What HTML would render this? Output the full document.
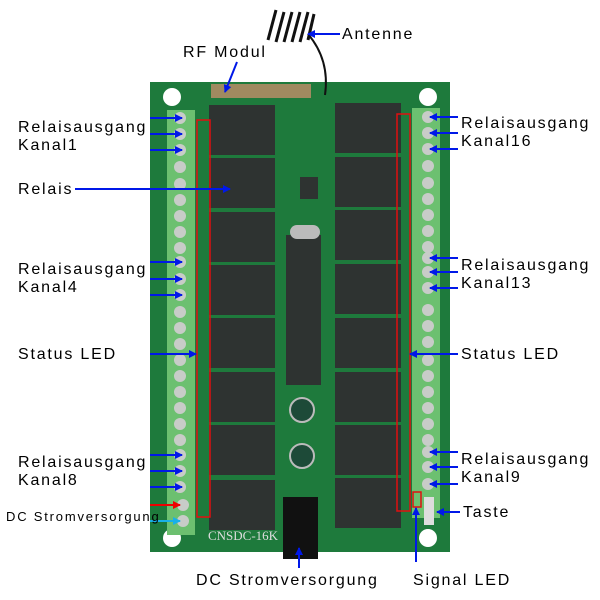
<!DOCTYPE html><html><head><style>body{margin:0;background:#fff}svg{display:block}text{font-family:"Liberation Sans",sans-serif;font-size:16px;letter-spacing:1.8px;fill:#000}</style></head><body>
<svg width="600" height="600" viewBox="0 0 600 600">
<defs><marker id="a" markerWidth="8" markerHeight="8" refX="7" refY="4" orient="auto" markerUnits="userSpaceOnUse"><path d="M0,0L8,4L0,8z" fill="#0018e8"/></marker>
<marker id="r" markerWidth="8" markerHeight="8" refX="7" refY="4" orient="auto" markerUnits="userSpaceOnUse"><path d="M0,0L8,4L0,8z" fill="#e00"/></marker>
<marker id="c" markerWidth="8" markerHeight="8" refX="7" refY="4" orient="auto" markerUnits="userSpaceOnUse"><path d="M0,0L8,4L0,8z" fill="#19b0e8"/></marker></defs>
<rect x="150" y="82" width="300" height="470" fill="#1e7a3c"/>
<circle cx="172" cy="97" r="9" fill="#fff"/><circle cx="428" cy="97" r="9" fill="#fff"/><circle cx="172" cy="538" r="9" fill="#fff"/><circle cx="428" cy="538" r="9" fill="#fff"/>
<rect x="167" y="110" width="28" height="425" fill="#6cc070"/>
<rect x="412" y="108" width="28" height="410" fill="#6cc070"/>
<g fill="#c8ccc8">
<circle cx="180" cy="118" r="6"/><circle cx="180" cy="134" r="6"/><circle cx="180" cy="150" r="6"/><circle cx="180" cy="167" r="6"/><circle cx="180" cy="184" r="6"/><circle cx="180" cy="200" r="6"/><circle cx="180" cy="216" r="6"/><circle cx="180" cy="232" r="6"/><circle cx="180" cy="248" r="6"/><circle cx="180" cy="262" r="6"/><circle cx="180" cy="279" r="6"/><circle cx="180" cy="295" r="6"/><circle cx="180" cy="312" r="6"/><circle cx="180" cy="328" r="6"/><circle cx="180" cy="344" r="6"/><circle cx="180" cy="360" r="6"/><circle cx="180" cy="376" r="6"/><circle cx="180" cy="392" r="6"/><circle cx="180" cy="408" r="6"/><circle cx="180" cy="424" r="6"/><circle cx="180" cy="440" r="6"/><circle cx="180" cy="455" r="6"/><circle cx="180" cy="471" r="6"/><circle cx="180" cy="487" r="6"/><circle cx="183" cy="505" r="6"/><circle cx="183" cy="521" r="6"/>
<circle cx="428" cy="117" r="6"/><circle cx="428" cy="133" r="6"/><circle cx="428" cy="149" r="6"/><circle cx="428" cy="166" r="6"/><circle cx="428" cy="183" r="6"/><circle cx="428" cy="199" r="6"/><circle cx="428" cy="215" r="6"/><circle cx="428" cy="231" r="6"/><circle cx="428" cy="247" r="6"/><circle cx="428" cy="258" r="6"/><circle cx="428" cy="272" r="6"/><circle cx="428" cy="288" r="6"/><circle cx="428" cy="310" r="6"/><circle cx="428" cy="326" r="6"/><circle cx="428" cy="342" r="6"/><circle cx="428" cy="360" r="6"/><circle cx="428" cy="376" r="6"/><circle cx="428" cy="392" r="6"/><circle cx="428" cy="408" r="6"/><circle cx="428" cy="424" r="6"/><circle cx="428" cy="440" r="6"/><circle cx="428" cy="452" r="6"/><circle cx="428" cy="467" r="6"/><circle cx="428" cy="484" r="6"/></g>
<g fill="#2e3331">
<rect x="209" y="105" width="66" height="50"/><rect x="209" y="158" width="66" height="50"/><rect x="209" y="212" width="66" height="50"/><rect x="209" y="265" width="66" height="50"/><rect x="209" y="318" width="66" height="50"/><rect x="209" y="372" width="66" height="50"/><rect x="209" y="425" width="66" height="50"/><rect x="209" y="480" width="66" height="50"/>
<rect x="335" y="103" width="66" height="50"/><rect x="335" y="157" width="66" height="50"/><rect x="335" y="210" width="66" height="50"/><rect x="335" y="264" width="66" height="50"/><rect x="335" y="318" width="66" height="50"/><rect x="335" y="372" width="66" height="50"/><rect x="335" y="425" width="66" height="50"/><rect x="335" y="478" width="66" height="50"/>
<rect x="286" y="235" width="35" height="150"/><rect x="300" y="177" width="18" height="22"/></g>
<rect x="211" y="84" width="100" height="14" fill="#a08a60"/>
<rect x="290" y="225" width="30" height="14" rx="7" fill="#bbb"/>
<circle cx="302" cy="410" r="12" fill="#1d4a38" stroke="#bbb" stroke-width="2"/><circle cx="302" cy="456" r="12" fill="#1d4a38" stroke="#bbb" stroke-width="2"/>
<rect x="283" y="497" width="35" height="62" fill="#111"/>
<rect x="424" y="497" width="10" height="28" fill="#ddd"/>
<text x="208" y="540" style="font-family:'Liberation Serif',serif;font-size:13px;letter-spacing:0;fill:#ddd">CNSDC-16K</text>
<path d="M325,95 Q330,60 308,34" stroke="#111" stroke-width="2" fill="none"/>
<g stroke="#111" stroke-width="3" fill="none"><path d="M268,40 l8,-30 M276,42 l8,-30 M284,42 l8,-30 M292,42 l8,-30 M300,42 l8,-30 M308,40 l6,-26"/></g>
<g fill="none" stroke="#e01010" stroke-width="1.5"><rect x="197" y="120" width="13" height="397"/><rect x="397" y="114" width="13" height="397"/><rect x="413" y="492" width="8" height="15"/></g>
<g stroke="#0018e8" stroke-width="2" marker-end="url(#a)">
<line x1="340" y1="34" x2="308" y2="34"/><line x1="237" y1="62" x2="225" y2="92"/>
<line x1="150" y1="118" x2="182" y2="118"/><line x1="150" y1="134" x2="182" y2="134"/><line x1="150" y1="150" x2="182" y2="150"/>
<line x1="75" y1="189" x2="230" y2="189"/>
<line x1="150" y1="262" x2="182" y2="262"/><line x1="150" y1="279" x2="182" y2="279"/><line x1="150" y1="295" x2="182" y2="295"/>
<line x1="150" y1="354" x2="196" y2="354"/>
<line x1="150" y1="455" x2="182" y2="455"/><line x1="150" y1="471" x2="182" y2="471"/><line x1="150" y1="487" x2="182" y2="487"/>
<line x1="458" y1="117" x2="430" y2="117"/><line x1="458" y1="133" x2="430" y2="133"/><line x1="458" y1="149" x2="430" y2="149"/>
<line x1="458" y1="258" x2="430" y2="258"/><line x1="458" y1="272" x2="430" y2="272"/><line x1="458" y1="288" x2="430" y2="288"/>
<line x1="458" y1="354" x2="410" y2="354"/>
<line x1="458" y1="452" x2="430" y2="452"/><line x1="458" y1="467" x2="430" y2="467"/><line x1="458" y1="484" x2="430" y2="484"/>
<line x1="460" y1="512" x2="437" y2="512"/>
<line x1="299" y1="568" x2="299" y2="548"/><line x1="416" y1="562" x2="416" y2="508"/></g>
<line x1="150" y1="505" x2="180" y2="505" stroke="#e00" stroke-width="2" marker-end="url(#r)"/>
<line x1="150" y1="521" x2="180" y2="521" stroke="#19b0e8" stroke-width="2" marker-end="url(#c)"/>
<text x="342" y="39">Antenne</text><text x="183" y="57">RF Modul</text>
<text x="18" y="132">Relaisausgang</text><text x="18" y="150">Kanal1</text>
<text x="18" y="194">Relais</text>
<text x="18" y="274">Relaisausgang</text><text x="18" y="292">Kanal4</text>
<text x="18" y="359">Status LED</text>
<text x="18" y="467">Relaisausgang</text><text x="18" y="485">Kanal8</text>
<text x="6" y="521" style="font-size:13px">DC Stromversorgung</text>
<text x="461" y="128">Relaisausgang</text><text x="461" y="146">Kanal16</text>
<text x="461" y="270">Relaisausgang</text><text x="461" y="288">Kanal13</text>
<text x="461" y="359">Status LED</text>
<text x="461" y="464">Relaisausgang</text><text x="461" y="482">Kanal9</text>
<text x="463" y="517">Taste</text>
<text x="196" y="585">DC Stromversorgung</text><text x="413" y="585">Signal LED</text>
</svg></body></html>
